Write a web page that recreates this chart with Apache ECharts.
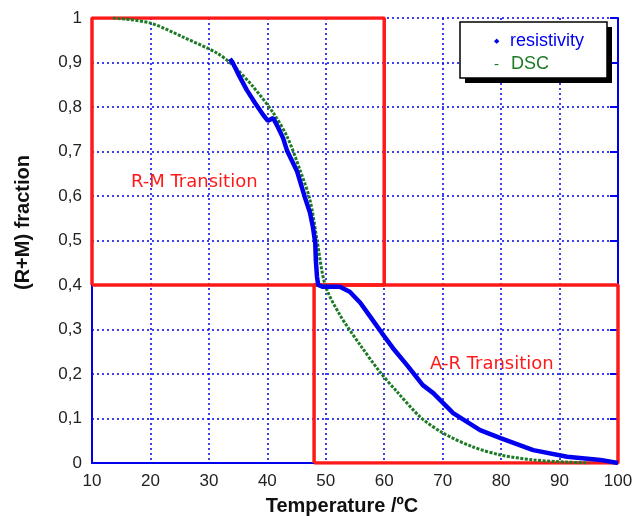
<!DOCTYPE html>
<html>
<head>
<meta charset="utf-8">
<script src="https://cdn.jsdelivr.net/npm/echarts@6/dist/echarts.min.js"></script>
<style>html,body{margin:0;padding:0;background:#fff}#c{width:644px;height:516px}</style>
</head>
<body>
<div id="c"></div>
<script>
// Temperature (°C) / (R+M) fraction pairs
const resistivityT = [33.6,34.1,35.3,36.5,37.9,39.3,40.1,41.0,41.3,41.8,42.7,43.4,44.4,45.1,45.9,46.4,47.3,47.8,48.2,48.3,48.5,48.7,49.5,52.4,54.1,55.9,57.6,59.6,61.5,63.9,66.6,68.4,71.8,76.4,79.9,85.5,91.3,97.0,100.0];
const resistivityY = [0.908,0.899,0.867,0.838,0.809,0.782,0.769,0.775,0.778,0.755,0.730,0.701,0.674,0.655,0.620,0.598,0.562,0.530,0.494,0.456,0.418,0.400,0.396,0.396,0.385,0.360,0.329,0.292,0.258,0.220,0.175,0.157,0.112,0.074,0.056,0.029,0.014,0.007,0.0];
const dscT = [13.6,19.9,25.6,31.4,34.1,37.6,41.0,43.4,45.6,47.3,48.5,49.9,52.4,55.9,59.3,62.2,66.2,70.1,75.2,79.9,85.5,91.3,95.0];
const dscY = [1.0,0.989,0.957,0.921,0.894,0.845,0.787,0.733,0.658,0.591,0.501,0.400,0.333,0.265,0.204,0.160,0.103,0.067,0.036,0.018,0.007,0.002,0.0];
// transition boxes (corners)
const rmBoxT = [10,10,60,60,10];
const rmBoxY = [0.4,1,1,0.4,0.4];
const arBoxT = [48,48,100,100,48];
const arBoxY = [0,0.4,0.4,0,0];
const xTicks = [10,20,30,40,50,60,70,80,90,100];
const yTicks = ['0','0,1','0,2','0,3','0,4','0,5','0,6','0,7','0,8','0,9','1'];

const zip = (a,b)=>a.map((v,i)=>[v,b[i]]);
const chart = echarts.init(document.getElementById('c'));
const BLUE = '#0000ee', GREEN = '#1c7a24', RED = '#ff1a1a';
const font = '"Liberation Sans", Arial, sans-serif';
chart.setOption({
  animation:false,
  backgroundColor:'#fff',
  grid:{left:92,right:26,top:18,bottom:53,show:false,containLabel:false,outerBoundsMode:'none'},
  xAxis:[{
    type:'value',min:10,max:100,interval:10,position:'bottom',
    name:'Temperature /ºC',nameLocation:'middle',nameGap:33,
    nameTextStyle:{fontFamily:font,fontWeight:'bold',fontSize:20,color:'#111',padding:[0,26,0,0],verticalAlign:'top'},
    axisLine:{show:true,lineStyle:{color:BLUE,width:2}},
    axisTick:{show:false},
    axisLabel:{fontFamily:font,fontSize:17,color:'#222',margin:10,formatter:v=>String(xTicks[Math.round((v-10)/10)])},
    splitLine:{show:true,lineStyle:{color:BLUE,type:[2,3],width:1.5}}
  },{
    type:'value',min:10,max:100,interval:10,position:'top',
    axisLine:{show:true,lineStyle:{color:BLUE,width:2}},
    axisTick:{show:false},axisLabel:{show:false},splitLine:{show:false}
  }],
  yAxis:[{
    type:'value',min:0,max:1,interval:0.1,position:'left',
    name:'(R+M) fraction',nameLocation:'middle',nameGap:59,
    nameTextStyle:{fontFamily:font,fontWeight:'bold',fontSize:20,color:'#111',padding:[0,0,0,36]},
    axisLine:{show:true,lineStyle:{color:BLUE,width:2}},
    axisTick:{show:false},
    axisLabel:{fontFamily:font,fontSize:17,color:'#222',margin:10,formatter:(v)=>yTicks[Math.round(v*10)]},
    splitLine:{show:true,lineStyle:{color:BLUE,type:[2,3],width:1.5}}
  },{
    type:'value',min:0,max:1,interval:0.1,position:'right',
    axisLine:{show:true,lineStyle:{color:BLUE,width:2}},
    axisTick:{show:true,inside:true,length:8,lineStyle:{color:BLUE,width:2}},
    axisLabel:{show:false},splitLine:{show:false}
  }],
  series:[
    {type:'line',data:zip(rmBoxT,rmBoxY),showSymbol:false,lineStyle:{color:RED,width:3.5},z:3},
    {type:'line',data:zip(arBoxT,arBoxY),showSymbol:false,lineStyle:{color:RED,width:3.5},z:3},
    {type:'line',data:zip(dscT,dscY),showSymbol:false,smooth:0.3,lineStyle:{color:GREEN,width:3,type:[3,1.5]},z:4},
    {type:'line',data:zip(resistivityT,resistivityY),showSymbol:false,lineStyle:{color:BLUE,width:4.5},z:5}
  ],
  graphic:[
    {type:'text',left:131,top:173,style:{text:'R-M Transition',fill:RED,font:'18px "DejaVu Sans", sans-serif'},z:10},
    {type:'text',left:430,top:355,style:{text:'A-R Transition',fill:RED,font:'18px "DejaVu Sans", sans-serif'},z:10},
    {type:'rect',shape:{x:465,y:27,width:147,height:56},style:{fill:'#000'},z:10},
    {type:'rect',shape:{x:460,y:22,width:147,height:56},style:{fill:'#fff',stroke:'#000',lineWidth:1.5},z:11},
    {type:'text',left:494,top:38,style:{text:'◆',fill:BLUE,font:'7px sans-serif'},z:12},
    {type:'text',left:494,top:57,style:{text:'-',fill:GREEN,font:'15px '+font},z:12},
    {type:'text',left:510,top:32,style:{text:'resistivity',fill:BLUE,font:'18px '+font},z:12},
    {type:'text',left:511,top:55,style:{text:'DSC',fill:GREEN,font:'18px '+font},z:12}
  ]
});
</script>
</body>
</html>
